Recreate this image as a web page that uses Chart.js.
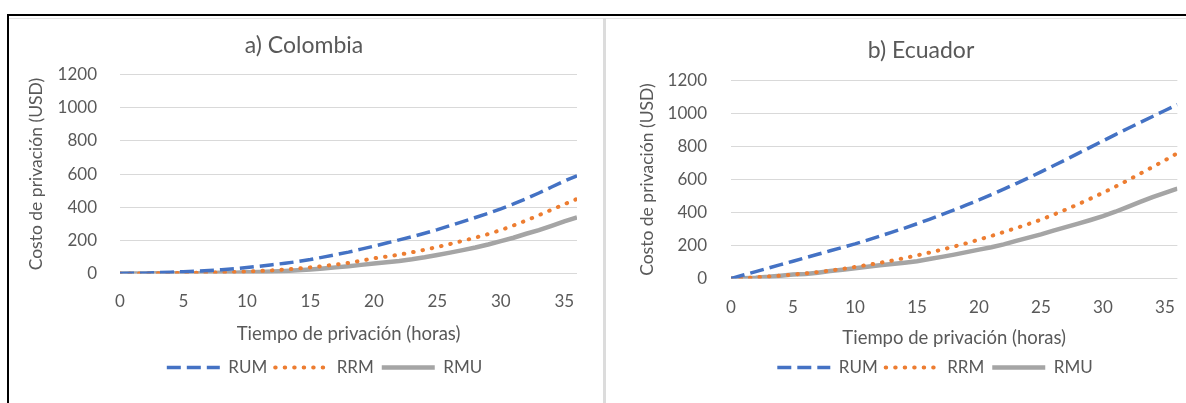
<!DOCTYPE html>
<html>
<head>
<meta charset="utf-8">
<script src="https://cdn.jsdelivr.net/npm/chart.js@4.4.1/dist/chart.umd.min.js"></script>
<style>
  html, body { margin: 0; padding: 0; background: #fff; }
  body { width: 1186px; height: 403px; position: relative; overflow: hidden; }
  .frame-top { position: absolute; left: 7px; top: 14px; width: 1179px; height: 2px; background: #000; }
  .frame-left { position: absolute; left: 7px; top: 14px; width: 2px; height: 389px; background: #000; }
  .inner-top { position: absolute; left: 9px; top: 18px; width: 1177px; height: 1px; background: #e3e3e3; }
  .divider { position: absolute; left: 603px; top: 18px; width: 3px; height: 385px; background: #dcdcdc; }
  #chartA { position: absolute; left: 10px; top: 19px; }
  #chartB { position: absolute; left: 607px; top: 24px; }
</style>
</head>
<body>
<div class="frame-top"></div>
<div class="frame-left"></div>
<div class="inner-top"></div>
<div class="divider"></div>
<canvas id="chartA" width="593" height="384"></canvas>
<canvas id="chartB" width="579" height="379"></canvas>
<script>
// hours of deprivation
const hours = [0,1,2,3,4,5,6,7,8,9,10,11,12,13,14,15,16,17,18,19,20,21,22,23,24,25,26,27,28,29,30,31,32,33,34,35,36];
const xTicks = [0,5,10,15,20,25,30,35];
const yTicks = [0,200,400,600,800,1000,1200];
const seriesNames = ['RUM', 'RRM', 'RMU'];

// a) Colombia, cost in USD
const colRUM = [0,1,2,5,8,11,14,18,23,29,36,44,53,62,72,84,99,114,129,147,165,184,203,222,243,265,289,313,338,363,390,420,452,486,522,558,590];
const colRRM = [0,0,1,1,2,3,4,5,7,9,12,15,19,24,30,37,45,54,64,77,92,102,114,128,143,160,178,197,217,238,262,290,320,352,385,418,450];
const colRMU = [0,0,0,1,1,2,2,3,4,5,7,9,12,15,19,24,30,37,44,52,60,68,76,86,98,112,126,141,157,175,195,216,240,262,288,315,338];

// b) Ecuador, cost in USD
const ecuRUM = [0,21,42,63,84,105,126,147,168,189,210,233,257,281,306,332,359,387,416,446,477,509,542,576,611,647,684,721,759,797,835,873,910,947,983,1019,1055];
const ecuRRM = [0,3,7,12,17,24,31,39,48,58,70,82,95,109,124,140,157,175,194,214,236,258,282,306,331,357,387,418,451,485,520,557,596,636,676,717,760];
const ecuRMU = [0,2,5,10,17,24,28,35,45,53,62,71,80,88,96,105,118,131,145,160,175,190,207,228,248,268,290,312,333,355,378,405,435,465,494,520,545];

const textColor = '#595959';
Chart.defaults.font.family = 'Lato';

// move title / legend to where the original placed them
const shiftBlocks = {
  id: 'shiftBlocks',
  afterLayout(chart, args, opts) {
    if (chart.titleBlock) { chart.titleBlock.left += opts.title; chart.titleBlock.right += opts.title; }
    if (chart.legend) { chart.legend.left += opts.legend; chart.legend.right += opts.legend; }
  }
};

function buildChart(id, titleText, rum, rrm, rmu, lay) {
  const pts = arr => hours.map((h, i) => ({ x: h, y: arr[i] }));
  return new Chart(document.getElementById(id), {
    type: 'line',
    data: {
      datasets: [
        { label: seriesNames[0], data: pts(rum), borderColor: '#4472C4', backgroundColor: '#4472C4',
          borderWidth: 3.5, borderDash: [14, 6], borderCapStyle: 'butt', pointRadius: 0, tension: 0 },
        { label: seriesNames[1], data: pts(rrm), borderColor: '#ED7D31', backgroundColor: '#ED7D31',
          borderWidth: 4, borderDash: [0.5, 9], borderCapStyle: 'round', pointRadius: 0, tension: 0 },
        { label: seriesNames[2], data: pts(rmu), borderColor: '#A5A5A5', backgroundColor: '#A5A5A5',
          borderWidth: 4.5, borderDash: [], borderCapStyle: 'butt', pointRadius: 0, tension: 0 }
      ]
    },
    options: {
      responsive: false,
      animation: false,
      layout: { padding: { left: 0, right: lay.padRight, top: 0, bottom: lay.padBottom } },
      scales: {
        x: {
          type: 'linear', min: 0, max: 36,
          grid: { display: false }, border: { display: false },
          afterBuildTicks: s => { s.ticks = xTicks.map(v => ({ value: v })); },
          afterFit: s => { s.height = lay.xHeight; },
          ticks: { color: textColor, font: { size: 17 }, padding: lay.xTickPad, maxRotation: 0, autoSkip: false,
                   callback: v => String(v) },
          title: { display: true, text: 'Tiempo de privación (horas)', color: textColor, font: { size: 18.5 },
                   padding: { top: 0, bottom: lay.xTitlePad } }
        },
        y: {
          min: 0, max: 1200,
          afterBuildTicks: s => { s.ticks = yTicks.map(v => ({ value: v })); },
          afterFit: s => { s.width = lay.yWidth; },
          grid: { color: '#D9D9D9', lineWidth: 1, drawTicks: false }, border: { display: false },
          ticks: { color: textColor, font: { size: 17 }, padding: lay.yTickPad, callback: v => String(v) },
          title: { display: true, text: 'Costo de privación (USD)', color: textColor, font: { size: 17.5 },
                   padding: { top: lay.yTitlePad, bottom: 0 } }
        }
      },
      plugins: {
        title: { display: true, text: titleText, color: textColor, font: { size: 23, weight: 'normal' },
                 padding: { top: 12.5, bottom: lay.titlePadBottom } },
        legend: {
          position: 'bottom',
          labels: {
            usePointStyle: true, pointStyle: 'line', pointStyleWidth: 53, color: textColor,
            font: { size: 17 }, padding: 8,
            generateLabels: chart => {
              const items = Chart.defaults.plugins.legend.labels.generateLabels(chart);
              items.forEach(it => {
                const ds = chart.data.datasets[it.datasetIndex];
                it.lineDash = ds.borderDash;
                it.lineCap = ds.borderCapStyle;
                it.lineWidth = ds.borderWidth;
                it.strokeStyle = ds.borderColor;
              });
              return items;
            }
          }
        },
        tooltip: { enabled: false },
        shiftBlocks: { title: lay.titleShift, legend: lay.legendShift }
      }
    },
    plugins: [shiftBlocks]
  });
}

buildChart('chartA', 'a) Colombia', colRUM, colRRM, colRMU, {
  padRight: 26, padBottom: 17, yWidth: 110, yTickPad: 23, yTitlePad: 16,
  xHeight: 77.5, xTickPad: 10, xTitlePad: 6, titlePadBottom: 15.6, titleShift: 10.5, legendShift: 31
});
buildChart('chartB', 'b) Ecuador', ecuRUM, ecuRRM, ecuRMU, {
  padRight: 6, padBottom: 17, yWidth: 124, yTickPad: 24, yTitlePad: 30,
  xHeight: 72.5, xTickPad: 11, xTitlePad: 2, titlePadBottom: 16.6, titleShift: 27.5, legendShift: 41.5
});
</script>
</body>
</html>
